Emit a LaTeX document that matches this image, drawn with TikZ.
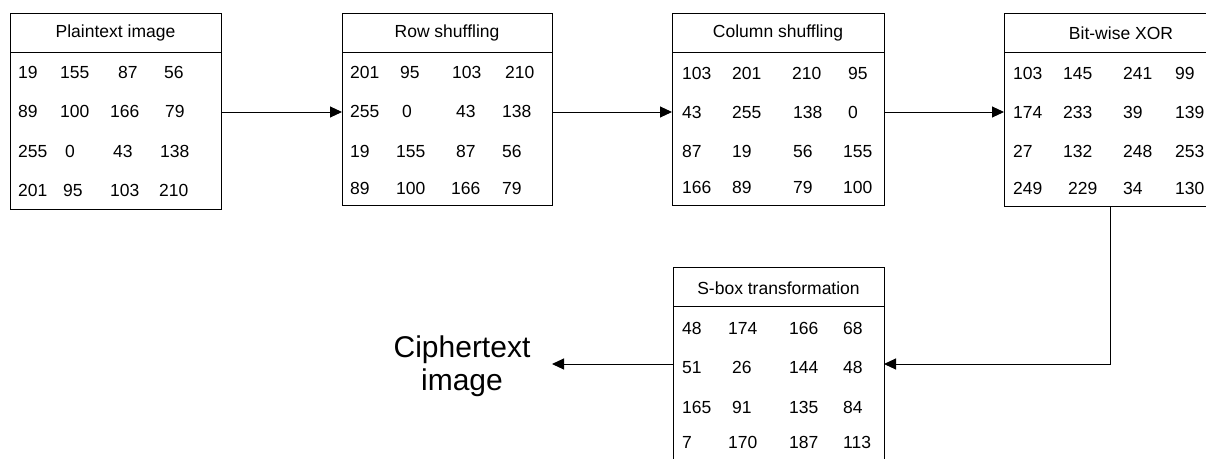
\documentclass[tikz,border=0pt]{standalone}
\usepackage{fontspec}
\setmainfont{Liberation Sans}
\usetikzlibrary{arrows.meta}
\tikzset{
  tbl/.style={draw=black, line width=1pt, rectangle, anchor=north west, inner sep=0pt, outer sep=0pt},
  num/.style={anchor=base west, inner sep=0pt, font=\fontsize{17.5}{20}\selectfont},
  hdr/.style={anchor=center, inner sep=0pt, font=\fontsize{17.5}{20}\selectfont},
  arr/.style={line width=1pt, -{Triangle[length=12pt,width=11pt]}},
  conn/.style={line width=1pt}
}
\newcommand\numrow[3]{\foreach \xx/\vv [count=\ii] in {#3} \node[num] (#1-\ii) at (\xx,#2) {\vv};}
\begin{document}
\begin{tikzpicture}[x=1pt,y=-1pt]
\useasboundingbox (0,0) rectangle (1206,458);
\clip (0,0) rectangle (1206,458);
% boxes
\node[tbl, minimum width=211pt, minimum height=196pt] (b1) at (10,13) {};
\node[tbl, minimum width=210pt, minimum height=192pt] (b2) at (342,13) {};
\node[tbl, minimum width=212pt, minimum height=192pt] (b3) at (672,13) {};
\node[tbl, minimum width=220pt, minimum height=193pt] (b4) at (1004,13) {};
\node[tbl, minimum width=211pt, minimum height=200pt] (b5) at (673,267) {};
% header lines
\draw[conn] (b1.west |- 0,52) -- (b1.east |- 0,52);
\draw[conn] (b2.west |- 0,52) -- (b2.east |- 0,52);
\draw[conn] (b3.west |- 0,52) -- (b3.east |- 0,52);
\draw[conn] (b4.west |- 0,52) -- (b4.east |- 0,52);
\draw[conn] (b5.west |- 0,306) -- (b5.east |- 0,306);
% headers
\node[hdr] (h1) at (115.5,33) {Plaintext image};
\node[hdr] (h2) at (447,33) {Row shuffling};
\node[hdr] (h3) at (778,33) {Column shuffling};
\node[hdr] (h4) at (1121,33) {Bit-wise XOR};
\node[hdr] (h5) at (778.5,288) {S-box transformation};
% box 1
\numrow{a1}{78.5}{18/19, 60/155, 118/87, 164/56}
\numrow{a2}{117.5}{18/89, 60/100, 110/166, 165/79}
\numrow{a3}{157.5}{18/255, 65/0, 113/43, 160/138}
\numrow{a4}{196.5}{18/201, 63/95, 110/103, 159/210}
% box 2
\numrow{c1}{78.5}{350/201, 400/95, 452/103, 505/210}
\numrow{c2}{117.5}{350/255, 402/0, 456/43, 502/138}
\numrow{c3}{157.5}{350/19, 396/155, 456/87, 502/56}
\numrow{c4}{194.5}{350/89, 396/100, 451/166, 502/79}
% box 3
\numrow{d1}{79.5}{682/103, 732/201, 792/210, 848/95}
\numrow{d2}{118.5}{682/43, 732/255, 793/138, 848/0}
\numrow{d3}{157.5}{682/87, 732/19, 793/56, 843/155}
\numrow{d4}{193.5}{682/166, 732/89, 793/79, 843/100}
% box 4
\numrow{e1}{79.5}{1013/103, 1063/145, 1123/241, 1175/99}
\numrow{e2}{118.5}{1013/174, 1063/233, 1123/39, 1175/139}
\numrow{e3}{157.5}{1013/27, 1063/132, 1123/248, 1175/253}
\numrow{e4}{194.5}{1013/249, 1068/229, 1123/34, 1175/130}
% box 5
\numrow{f1}{334.5}{682/48, 728/174, 789/166, 843/68}
\numrow{f2}{373.5}{682/51, 732/26, 789/144, 843/48}
\numrow{f3}{413.5}{682/165, 732/91, 789/135, 843/84}
\numrow{f4}{448.5}{682/7, 728/170, 789/187, 843/113}
% ciphertext
\node[align=center, inner sep=0pt, font=\fontsize{30}{33}\selectfont] (ct) at (462,366) {Ciphertext\\image};
% connectors
\coordinate (ry) at (0,112);
\coordinate (vx) at (1110,0);
\coordinate (sy) at (0,364);
\draw[arr] (b1.east |- ry) -- (b2.west |- ry);
\draw[arr] (b2.east |- ry) -- (b3.west |- ry);
\draw[arr] (b3.east |- ry) -- (b4.west |- ry);
\draw[arr] (b4.south -| vx) -- (vx |- sy) -- (b5.east |- sy);
\draw[arr] (b5.west |- sy) -- (552,364) coordinate (ce);
\end{tikzpicture}
\end{document}
